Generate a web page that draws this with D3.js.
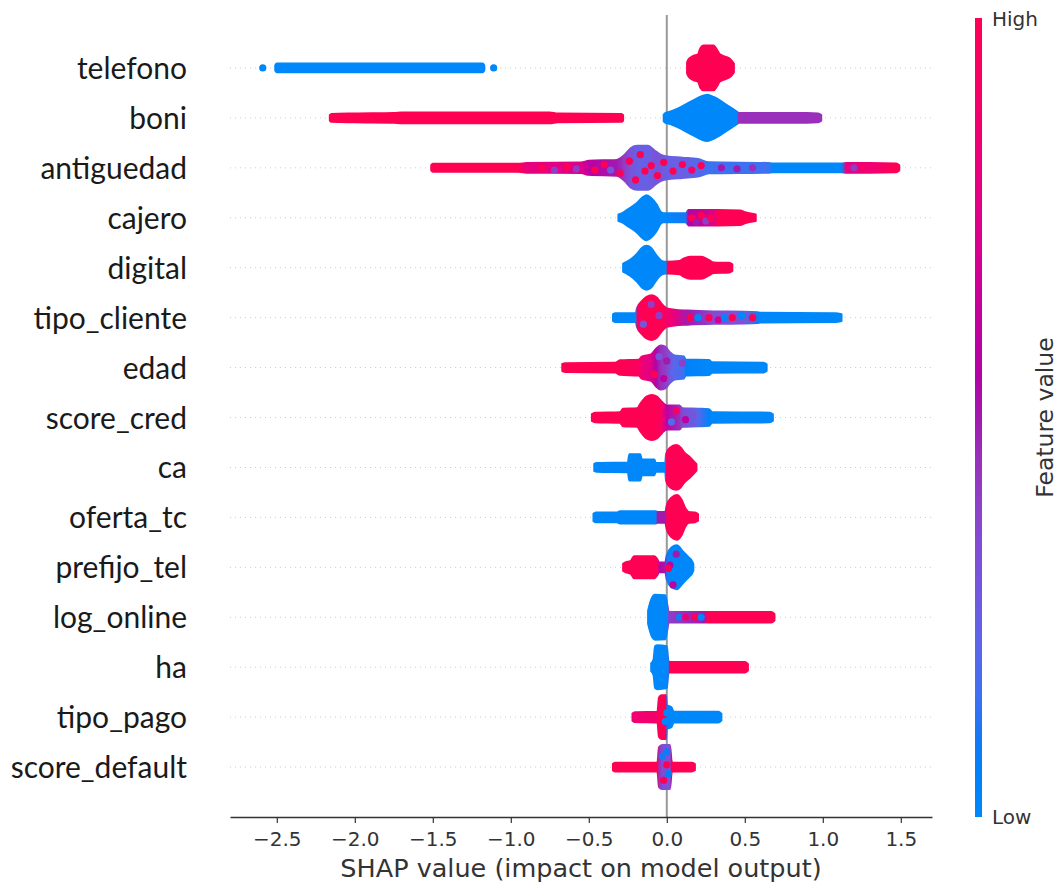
<!DOCTYPE html>
<html>
<head>
<meta charset="utf-8">
<script src="https://cdn.jsdelivr.net/npm/d3@7"></script>
<style>
  body { margin: 0; background: #fff; }
</style>
</head>
<body>
<svg id="chart" width="1061" height="886"></svg>
<script>
// Features, top to bottom, ordered by mean |SHAP|
const features = ["telefono", "boni", "antiguedad", "cajero", "digital", "tipo_cliente", "edad",
  "score_cred", "ca", "oferta_tc", "prefijo_tel", "log_online", "ha", "tipo_pago", "score_default"];

// Distribution outline of each feature's SHAP values.
// Each piece: [shap value, relative density (1 = densest stack), mean feature value 0..1]
const telefono = [
  [[-2.51, 0.12, 0], [-2.5, 0.2, 0], [-1.18, 0.2, 0], [-1.17, 0.12, 0]],
  [[0.13, 0.25, 1], [0.14, 0.4, 1], [0.17, 0.55, 1], [0.2, 0.62, 1], [0.215, 0.9, 1], [0.235, 1.02, 1],
   [0.3, 1.02, 1], [0.32, 0.85, 1], [0.34, 0.62, 1], [0.38, 0.5, 1], [0.41, 0.38, 1], [0.43, 0.2, 1]]
];
const boni = [
  [[-2.16, 0.12, 1], [-2.15, 0.18, 1], [-2.0, 0.2, 1], [-1.75, 0.22, 1], [-1.7, 0.25, 1], [-0.75, 0.25, 1],
   [-0.7, 0.2, 1], [-0.29, 0.18, 1], [-0.28, 0.12, 1]],
  [[-0.02, 0.15, 0], [-0.01, 0.22, 0], [0.03, 0.3, 0], [0.08, 0.45, 0], [0.13, 0.65, 0], [0.17, 0.8, 0],
   [0.22, 0.98, 0], [0.26, 1.05, 0], [0.3, 0.95, 0], [0.34, 0.8, 0], [0.38, 0.6, 0], [0.42, 0.42, 0],
   [0.45, 0.28, 0], [0.46, 0.22, 0.45], [0.9, 0.22, 0.45], [0.97, 0.2, 0.45], [0.99, 0.13, 0.45]]
];
const antiguedad = [
  [[-1.51, 0.12, 1], [-1.5, 0.18, 1], [-0.95, 0.18, 1], [-0.9, 0.22, 0.8], [-0.55, 0.24, 0.75],
   [-0.5, 0.32, 0.6], [-0.32, 0.36, 0.5], [-0.27, 0.6, 0.4], [-0.23, 0.9, 0.3], [-0.19, 1.0, 0.25],
   [-0.12, 1.0, 0.25], [-0.08, 0.8, 0.3], [-0.04, 0.6, 0.3], [0.0, 0.52, 0.25], [0.1, 0.46, 0.25],
   [0.2, 0.4, 0.2], [0.27, 0.25, 0.15], [0.65, 0.22, 0.15], [0.68, 0.2, 0], [1.12, 0.2, 0],
   [1.15, 0.22, 0.8], [1.3, 0.22, 0.85], [1.47, 0.2, 1], [1.49, 0.12, 1]]
];
const cajero = [
  [[-0.31, 0.15, 0], [-0.29, 0.2, 0], [-0.255, 0.36, 0], [-0.19, 0.68, 0], [-0.16, 0.9, 0], [-0.13, 1.02, 0],
   [-0.1, 0.9, 0], [-0.065, 0.6, 0], [-0.04, 0.28, 0], [-0.02, 0.2, 0], [0.12, 0.2, 0.1], [0.14, 0.35, 0.55],
   [0.3, 0.35, 0.75], [0.33, 0.35, 1], [0.47, 0.33, 1], [0.5, 0.25, 1], [0.57, 0.15, 1]]
];
const digital = [
  [[-0.28, 0.18, 0], [-0.265, 0.24, 0], [-0.235, 0.36, 0], [-0.19, 0.64, 0], [-0.16, 0.9, 0], [-0.13, 1.0, 0],
   [-0.1, 0.9, 0], [-0.065, 0.55, 0], [-0.03, 0.3, 0], [-0.005, 0.27, 0], [0.005, 0.27, 1], [0.08, 0.3, 1],
   [0.11, 0.42, 1], [0.15, 0.5, 1], [0.22, 0.5, 1], [0.27, 0.35, 1], [0.3, 0.24, 1], [0.4, 0.22, 1], [0.42, 0.15, 1]]
];
const tipo_cliente = [
  [[-0.345, 0.15, 0], [-0.33, 0.2, 0], [-0.2, 0.2, 0], [-0.19, 0.45, 0.9], [-0.16, 0.75, 1], [-0.13, 0.95, 1],
   [-0.095, 1.02, 1], [-0.063, 0.9, 1], [-0.03, 0.6, 1], [0.0, 0.42, 0.9], [0.05, 0.36, 0.8], [0.13, 0.32, 0.5],
   [0.3, 0.28, 0.35], [0.5, 0.27, 0.3], [0.58, 0.25, 0.1], [0.6, 0.22, 0], [1.08, 0.2, 0], [1.12, 0.15, 0]]
];
const edad = [
  [[-0.67, 0.16, 1], [-0.65, 0.2, 1], [-0.33, 0.22, 1], [-0.3, 0.33, 1], [-0.18, 0.36, 0.95], [-0.16, 0.5, 0.85],
   [-0.1, 0.6, 0.75], [-0.07, 0.85, 0.55], [-0.04, 1.0, 0.45], [-0.01, 0.95, 0.4], [0.02, 0.7, 0.3],
   [0.05, 0.55, 0.2], [0.11, 0.5, 0.15], [0.12, 0.36, 0.05], [0.27, 0.34, 0], [0.29, 0.24, 0], [0.62, 0.22, 0],
   [0.64, 0.15, 0]]
];
const score_cred = [
  [[-0.48, 0.16, 1], [-0.46, 0.22, 1], [-0.3, 0.24, 1], [-0.28, 0.4, 1], [-0.19, 0.42, 1], [-0.17, 0.62, 1],
   [-0.13, 0.95, 1], [-0.095, 1.02, 1], [-0.063, 0.95, 1], [-0.03, 0.7, 0.9], [0.0, 0.55, 0.6], [0.08, 0.55, 0.45],
   [0.1, 0.42, 0.35], [0.2, 0.4, 0.2], [0.27, 0.38, 0.05], [0.29, 0.24, 0], [0.66, 0.22, 0], [0.68, 0.15, 0]]
];
const ca = [
  [[-0.465, 0.16, 0], [-0.45, 0.2, 0], [-0.25, 0.22, 0], [-0.24, 0.6, 0], [-0.17, 0.6, 0], [-0.16, 0.36, 0],
   [-0.08, 0.36, 0], [-0.07, 0.2, 0], [-0.01, 0.2, 0], [-0.005, 0.6, 0.95], [0.02, 0.9, 1], [0.06, 1.02, 1],
   [0.09, 0.9, 1], [0.11, 0.7, 1], [0.15, 0.45, 1], [0.17, 0.3, 1], [0.19, 0.15, 1]]
];
const oferta_tc = [
  [[-0.47, 0.16, 0], [-0.455, 0.22, 0], [-0.32, 0.22, 0], [-0.3, 0.28, 0], [-0.07, 0.28, 0], [-0.06, 0.24, 0.5],
   [-0.01, 0.24, 0.5], [0.0, 0.55, 1], [0.03, 0.9, 1], [0.065, 1.02, 1], [0.095, 0.8, 1], [0.12, 0.4, 1],
   [0.14, 0.25, 1], [0.18, 0.22, 1], [0.2, 0.15, 1]]
];
const prefijo_tel = [
  [[-0.28, 0.16, 1], [-0.265, 0.22, 1], [-0.23, 0.3, 1], [-0.21, 0.5, 1], [-0.08, 0.5, 1], [-0.06, 0.35, 1],
   [-0.05, 0.22, 0.6], [-0.01, 0.22, 0.5], [0.0, 0.55, 0.1], [0.03, 0.9, 0], [0.065, 1.0, 0], [0.1, 0.75, 0],
   [0.14, 0.45, 0], [0.16, 0.3, 0], [0.17, 0.15, 0]]
];
const log_online = [
  [[-0.12, 0.3, 0], [-0.1, 0.8, 0], [-0.075, 1.02, 0], [-0.01, 1.0, 0], [0.005, 0.5, 0], [0.012, 0.24, 0.4],
   [0.24, 0.24, 0.5], [0.26, 0.24, 1], [0.67, 0.24, 1], [0.69, 0.15, 1]]
];
const ha = [
  [[-0.1, 0.18, 0], [-0.085, 0.35, 0], [-0.075, 0.95, 0], [-0.06, 1.0, 0], [0.0, 0.95, 0], [0.01, 0.3, 0],
   [0.015, 0.24, 1], [0.5, 0.24, 1], [0.52, 0.15, 1]]
];
const tipo_pago = [
  [[-0.22, 0.16, 0.85], [-0.205, 0.22, 0.85], [-0.06, 0.24, 0.9], [-0.05, 0.9, 1], [-0.035, 1.0, 1],
   [-0.005, 1.0, 1], [0.0, 0.55, 0.05], [0.03, 0.45, 0], [0.045, 0.24, 0], [0.33, 0.24, 0], [0.35, 0.15, 0]]
];
const score_default = [
  [[-0.345, 0.15, 1], [-0.33, 0.2, 1], [-0.06, 0.2, 1], [-0.05, 0.9, 0.45], [-0.03, 1.0, 0.35],
   [0.02, 1.0, 0.3], [0.03, 0.3, 0.8], [0.035, 0.2, 1], [0.16, 0.2, 1], [0.18, 0.14, 1]]
];

// Individual samples that stand out from the outline: [shap value, offset within stack -1..1, feature value]
const telefonoDots = [[-2.59, 0, 0], [-1.11, 0, 0]];
const antiguedadDots = [[-0.8, 0, 1], [-0.72, 0.1, 0.4], [-0.64, -0.05, 1], [-0.58, 0.05, 0.4], [-0.46, 0.1, 1],
  [-0.4, -0.15, 1], [-0.36, 0.1, 0.3], [-0.3, 0.25, 1], [-0.24, -0.3, 1], [-0.2, 0.55, 1], [-0.17, -0.6, 1],
  [-0.14, 0.15, 1], [-0.1, -0.1, 1], [-0.06, 0.35, 1], [-0.02, -0.25, 1], [0.04, 0.15, 1], [0.1, -0.15, 1],
  [0.16, 0.1, 0.9], [0.22, -0.1, 1], [0.35, 0, 0.5], [0.45, 0.05, 0.5], [0.55, 0, 0.45], [1.2, 0, 0.4], [1.26, 0, 0.9]];
const cajeroDots = [[0.16, 0, 1], [0.19, 0.2, 0.5], [0.22, -0.1, 1], [0.25, 0.15, 0.4], [0.28, 0, 1]];
const tipoClienteDots = [[-0.15, 0.3, 0.3], [-0.1, -0.6, 0.4], [-0.05, -0.1, 0.4], [0.15, 0, 1], [0.2, 0, 0],
  [0.27, 0, 1], [0.33, 0.1, 0.7], [0.37, 0, 0], [0.42, 0, 1], [0.48, -0.1, 0], [0.55, 0, 1]];
const edadDots = [[-0.08, 0.3, 1], [-0.05, -0.5, 0.3], [-0.02, 0.5, 0.6], [0.0, -0.3, 0.5], [0.04, 0.2, 0.2], [0.1, -0.2, 0.4]];
const scoreCredDots = [[0.03, 0.2, 0.2], [0.06, -0.3, 0.9], [0.12, 0.1, 0.6], [0.17, -0.1, 0.3]];
const prefijoDots = [[0.04, 0.8, 0.6], [0.02, -0.1, 0.6], [0.01, 0.05, 1], [0.06, -0.6, 0.5]];
const logOnlineDots = [[0.08, 0, 0.1], [0.12, 0, 0.8], [0.18, 0, 1], [0.22, 0, 0]];
const tipoPagoDots = [[-0.01, 0.2, 0], [0.0, -0.2, 0]];
const scoreDefaultDots = [[-0.02, 0.6, 1], [0.0, -0.1, 1], [-0.03, -0.5, 0.1], [0.01, 0.3, 0.05], [0.0, -0.7, 0.1]];

const profiles = [telefono, boni, antiguedad, cajero, digital, tipo_cliente, edad, score_cred,
  ca, oferta_tc, prefijo_tel, log_online, ha, tipo_pago, score_default];
const samples = [telefonoDots, [], antiguedadDots, cajeroDots, [], tipoClienteDots, edadDots, scoreCredDots,
  [], [], prefijoDots, logOnlineDots, [], tipoPagoDots, scoreDefaultDots];

const xTicks = [-2.5, -2, -1.5, -1, -0.5, 0, 0.5, 1, 1.5];

// --- drawing ---
const svg = d3.select("#chart");
svg.append("rect").attr("width", 1061).attr("height", 886).attr("fill", "#fff");
const defs = svg.append("defs");

const x = d3.scaleLinear().domain([-2.8, 1.7]).range([230, 932]);
const y = d3.scaleLinear().domain([-1, features.length]).range([817, 18]);
const rowY = i => y(features.length - 1 - i);
const step = y(0) - y(1);
const half = d3.scaleLinear().domain([0, 1]).range([0, 0.44 * step]);

// blue -> purple -> red, interpolated in LCh with a darker middle
const cmap = t => {
  const l = t < 0.5 ? 54 - 28 * t : 40 + 28 * (t - 0.5);
  return d3.hcl(267 + 113 * t, 70 + 20 * t, l).formatHex();
};

// row guide lines
svg.append("g").selectAll("line").data(features).join("line")
  .attr("x1", x.range()[0]).attr("x2", x.range()[1])
  .attr("y1", (d, i) => rowY(i)).attr("y2", (d, i) => rowY(i))
  .attr("stroke", "#cccccc").attr("stroke-width", 1).attr("stroke-dasharray", "1,4");

// zero line
svg.append("line")
  .attr("x1", x(0)).attr("x2", x(0)).attr("y1", 15).attr("y2", y(-1))
  .attr("stroke", "#999").attr("stroke-width", 2);

// swarms
const swarm = svg.append("g");
profiles.forEach((pieces, i) => {
  const cy = rowY(i);
  const area = d3.area()
    .x(d => x(d[0]))
    .y0(d => cy - half(d[1]))
    .y1(d => cy + half(d[1]))
    .curve(d3.curveMonotoneX);
  pieces.forEach((piece, j) => {
    const id = `grad-${i}-${j}`;
    const x1 = x(piece[0][0]), x2 = x(piece[piece.length - 1][0]);
    const g = defs.append("linearGradient").attr("id", id)
      .attr("gradientUnits", "userSpaceOnUse")
      .attr("x1", x1).attr("x2", x2).attr("y1", 0).attr("y2", 0);
    g.selectAll("stop").data(piece).join("stop")
      .attr("offset", d => (x(d[0]) - x1) / (x2 - x1))
      .attr("stop-color", d => cmap(d[2]));
    swarm.append("path").datum(piece)
      .attr("d", area)
      .attr("fill", `url(#${id})`)
      .attr("stroke", `url(#${id})`)
      .attr("stroke-width", 2)
      .attr("stroke-linejoin", "round");
  });
  swarm.append("g").selectAll("circle").data(samples[i]).join("circle")
    .attr("cx", d => x(d[0]))
    .attr("cy", d => cy + half(d[1]))
    .attr("r", 3.6)
    .attr("fill", d => cmap(d[2]));
});

// feature labels
svg.append("g").selectAll("text").data(features).join("text")
  .attr("x", 187).attr("y", (d, i) => rowY(i) + 11)
  .attr("text-anchor", "end")
  .attr("font-family", "Lato, 'Noto Sans', sans-serif")
  .attr("font-size", 30)
  .attr("fill", "#1a1a1a")
  .text(d => d);

// x axis
const axis = svg.append("g").attr("transform", `translate(0,${y(-1)})`)
  .call(d3.axisBottom(x).tickValues(xTicks).tickFormat(d3.format(".1f"))
    .tickSize(6).tickPadding(9).tickSizeOuter(0));
axis.select(".domain").attr("stroke", "#333").attr("stroke-width", 1.3);
axis.selectAll(".tick line").attr("stroke", "#333").attr("stroke-width", 1.2);
axis.selectAll(".tick text").attr("font-family", "DejaVu Sans").attr("font-size", 20).attr("fill", "#333");

svg.append("text")
  .attr("x", (x.range()[0] + x.range()[1]) / 2).attr("y", 877)
  .attr("text-anchor", "middle")
  .attr("font-family", "DejaVu Sans").attr("font-size", 25.5).attr("fill", "#333")
  .text("SHAP value (impact on model output)");

// colour bar
const cbar = defs.append("linearGradient").attr("id", "cbar")
  .attr("x1", 0).attr("x2", 0).attr("y1", 1).attr("y2", 0);
cbar.selectAll("stop").data(d3.range(0, 1.0001, 0.05)).join("stop")
  .attr("offset", d => d).attr("stop-color", d => cmap(d));
svg.append("rect").attr("x", 975).attr("y", 18).attr("width", 7).attr("height", y(-1) - 18)
  .attr("fill", "url(#cbar)");
svg.append("text").attr("x", 992).attr("y", 26)
  .attr("font-family", "DejaVu Sans").attr("font-size", 20).attr("fill", "#333").text("High");
svg.append("text").attr("x", 992).attr("y", 824)
  .attr("font-family", "DejaVu Sans").attr("font-size", 20).attr("fill", "#333").text("Low");
svg.append("text")
  .attr("transform", `translate(1053,${(18 + y(-1)) / 2}) rotate(-90)`)
  .attr("text-anchor", "middle")
  .attr("font-family", "DejaVu Sans").attr("font-size", 23.5).attr("fill", "#333")
  .text("Feature value");
</script>
</body>
</html>
